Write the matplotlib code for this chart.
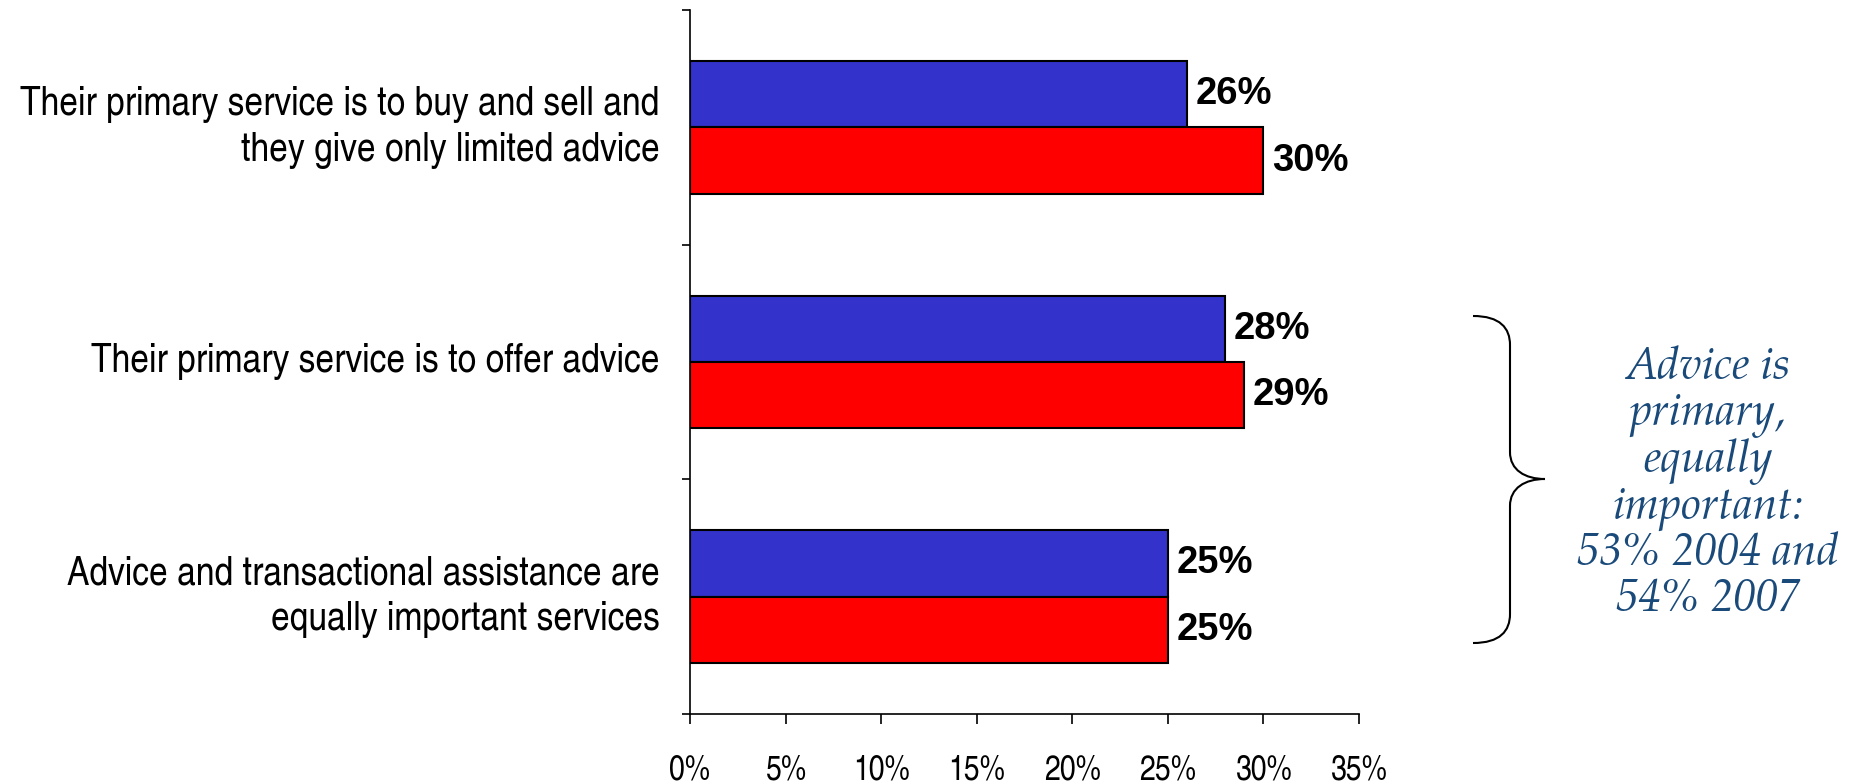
import numpy as np
import matplotlib
import matplotlib.pyplot as plt
from matplotlib.path import Path
from matplotlib.patches import PathPatch

matplotlib.use('agg')

categories = ["Their primary service is to buy and sell and\nthey give only limited advice",
              "Their primary service is to offer advice",
              "Advice and transactional assistance are\nequally important services"]
share_2004 = [26, 28, 25]
share_2007 = [30, 29, 25]
xticks = [0, 5, 10, 15, 20, 25, 30, 35]
note = "Advice is\nprimary,\nequally\nimportant:\n53% 2004 and\n54% 2007"

narrow = ['TeX Gyre Heros Cn', 'Liberation Sans', 'DejaVu Sans']
serif = ['TeX Gyre Pagella', 'Liberation Serif', 'DejaVu Serif']
blue = '#3333CC'
red = '#FF0000'

fig = plt.figure(figsize=(18.56, 7.84), dpi=100)
ax = fig.add_axes([690/1856, 70/784, 669/1856, 704/784])

y = np.arange(len(categories))
h = 0.283
ax.barh(y - h/2, share_2004, height=h, color=blue, edgecolor='black', linewidth=1.5)
ax.barh(y + h/2, share_2007, height=h, color=red, edgecolor='black', linewidth=1.5)

for yy, v in zip(y - h/2, share_2004):
    ax.annotate(f"{v}%", (v, yy), xytext=(6, 0), textcoords='offset points',
                va='center', ha='left', fontsize=27.5, fontweight='bold',
                family='Liberation Sans')
for yy, v in zip(y + h/2, share_2007):
    ax.annotate(f"{v}%", (v, yy), xytext=(6, 0), textcoords='offset points',
                va='center', ha='left', fontsize=27.5, fontweight='bold',
                family='Liberation Sans')

ax.set_xlim(0, 35)
ax.set_ylim(len(categories) - 0.5, -0.5)
ax.set_xticks(xticks)
ax.set_xticklabels([f"{t}%" for t in xticks], family=narrow, fontsize=25)
ax.tick_params(axis='x', direction='out', length=7, width=1.2, pad=22)

# category boundaries carry the tick marks, centers carry the labels
ax.set_yticks(np.arange(len(categories) + 1) - 0.5)
ax.set_yticklabels([])
ax.set_yticks(y, minor=True)
ax.set_yticklabels(categories, minor=True, family=narrow, fontsize=29.5,
                   ha='center', linespacing=1.32)
ax.tick_params(axis='y', which='major', direction='out', length=6, width=1.2)
ax.tick_params(axis='y', which='minor', length=0, pad=22)
for lab in ax.get_yticklabels(minor=True):
    lab.set_horizontalalignment('right')
    lab.set_verticalalignment('center')

for s in ['top', 'right']:
    ax.spines[s].set_visible(False)
for s in ['left', 'bottom']:
    ax.spines[s].set_linewidth(1.2)

# overlay in pixel units for the brace and the side note
over = fig.add_axes([0, 0, 1, 1])
over.set_xlim(0, 1856)
over.set_ylim(784, 0)
over.axis('off')
verts = [(1473, 316), (1500, 316), (1510, 328), (1510, 345),
         (1510, 452),
         (1510, 470), (1525, 479), (1545, 479),
         (1525, 479), (1510, 488), (1510, 506),
         (1510, 614),
         (1510, 631), (1500, 643), (1473, 643)]
codes = [Path.MOVETO, Path.CURVE4, Path.CURVE4, Path.CURVE4,
         Path.LINETO,
         Path.CURVE4, Path.CURVE4, Path.CURVE4,
         Path.CURVE4, Path.CURVE4, Path.CURVE4,
         Path.LINETO,
         Path.CURVE4, Path.CURVE4, Path.CURVE4]
over.add_patch(PathPatch(Path(verts, codes), facecolor='none', edgecolor='black', lw=1.5))
over.text(1708, 484, note, ha='center', va='center', fontsize=32, style='italic',
          family=serif, color='#1A4A7A', linespacing=1.0)

fig.savefig('out.png', dpi=100)
